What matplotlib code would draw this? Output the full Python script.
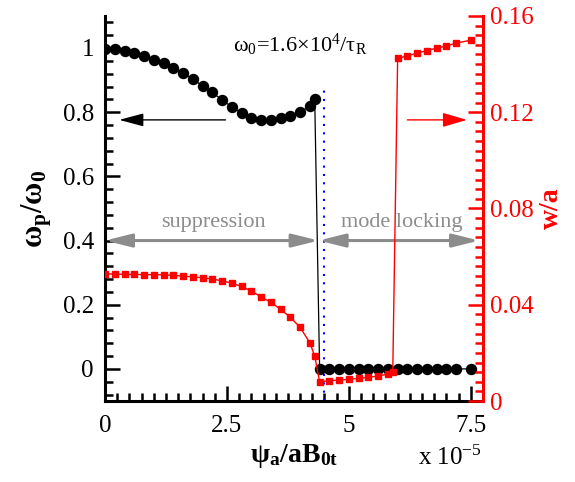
import matplotlib

matplotlib.use("Agg")

import matplotlib.pyplot as plt
from matplotlib.ticker import MultipleLocator

plt.rcParams["font.family"] = ["Liberation Serif", "DejaVu Serif"]
plt.rcParams["mathtext.fontset"] = "custom"
plt.rcParams["mathtext.rm"] = "Liberation Serif"
plt.rcParams["mathtext.it"] = "Liberation Serif:italic"
plt.rcParams["mathtext.bf"] = "Liberation Serif:bold"

# rotation frequency omega_p/omega_0 (left axis)
psi_w = [0.0, 0.2, 0.4, 0.6, 0.8, 1.0, 1.2, 1.4, 1.6, 1.8, 2.0, 2.2, 2.4, 2.6,
         2.8, 3.0, 3.2, 3.4, 3.6, 3.8, 4.0, 4.2, 4.3,
         4.4, 4.6, 4.8, 5.0, 5.2, 5.4, 5.6, 5.8, 6.0, 6.2, 6.4, 6.6, 6.8, 7.0,
         7.2, 7.5]
omega = [0.997, 0.996, 0.990, 0.984, 0.974, 0.963, 0.953, 0.938, 0.922, 0.903,
         0.882, 0.862, 0.838, 0.817, 0.797, 0.783, 0.776, 0.776, 0.782, 0.789,
         0.801, 0.818, 0.841,
         0.0, 0.0, 0.0, 0.0, 0.0, 0.0, 0.0, 0.0, 0.0, 0.0, 0.0, 0.0, 0.0, 0.0,
         0.0, 0.0]

# island width w/a (right axis)
psi_island = [0.0, 0.2, 0.4, 0.6, 0.8, 1.0, 1.2, 1.4, 1.6, 1.8, 2.0, 2.2, 2.4,
              2.6, 2.8, 3.0, 3.2, 3.4, 3.6, 3.8, 4.0, 4.2, 4.3,
              4.4, 4.6, 4.8, 5.0, 5.2, 5.4, 5.6, 5.8, 5.9,
              6.0, 6.2, 6.4, 6.6, 6.8, 7.0, 7.2, 7.5]
island = [0.0528, 0.0528, 0.0526, 0.0526, 0.0525, 0.0525, 0.0524, 0.0522,
          0.0519, 0.0516, 0.0512, 0.0507, 0.0499, 0.0490, 0.0476, 0.0457,
          0.0433, 0.0410, 0.0381, 0.0348, 0.0306, 0.0242, 0.0187,
          0.0080, 0.0084, 0.0087, 0.0090, 0.0094, 0.0098, 0.0104, 0.0112,
          0.0122,
          0.1424, 0.1434, 0.1445, 0.1456, 0.1466, 0.1475, 0.1487, 0.1499]

psi_boundary = 4.38
psi_dotted = 4.5

fig = plt.figure(figsize=(5.75, 4.82), dpi=100)
ax = fig.add_axes([0.1826, 0.168, 0.6574, 0.799])
ax2 = ax.twinx()

ax.plot(psi_w, omega, color="black", linewidth=0.9, marker="o",
        markersize=7.2, zorder=4)
ax2.plot(psi_island, island, color="red", linewidth=1.0, marker="s",
         markersize=4.3, zorder=3)

ax.vlines(psi_dotted, -0.1, 0.875, colors="blue", linestyles=(0, (1, 3)),
          linewidth=1.5, zorder=2)

ax.set_xlim(0, 7.75)
ax.set_ylim(-0.1, 1.1)
ax2.set_ylim(0, 0.16)

ax.xaxis.set_major_locator(MultipleLocator(2.5))
ax.xaxis.set_minor_locator(MultipleLocator(0.25))
ax.yaxis.set_major_locator(MultipleLocator(0.2))
ax.yaxis.set_minor_locator(MultipleLocator(0.04))
ax2.yaxis.set_major_locator(MultipleLocator(0.04))
ax2.yaxis.set_minor_locator(MultipleLocator(0.004))
ax.set_xticks([0, 2.5, 5, 7.5], ["0", "2.5", "5", "7.5"])
ax.set_yticks([0, 0.2, 0.4, 0.6, 0.8, 1.0], ["0", "0.2", "0.4", "0.6", "0.8", "1"])
ax2.set_yticks([0, 0.04, 0.08, 0.12, 0.16], ["0", "0.04", "0.08", "0.12", "0.16"])

for a in (ax, ax2):
    a.spines["top"].set_visible(False)
ax.spines["right"].set_visible(False)
ax2.spines["left"].set_visible(False)
ax2.spines["bottom"].set_visible(False)
ax.spines["left"].set_linewidth(2.2)
ax.spines["bottom"].set_linewidth(2.2)
ax2.spines["right"].set_linewidth(2.2)
ax2.spines["right"].set_color("red")

ax.tick_params(which="both", direction="in", width=1.8, labelsize=18,
               top=False, right=False)
ax.tick_params(which="major", length=11)
ax.tick_params(which="minor", length=6)
ax.tick_params(axis="x", pad=10)
ax.tick_params(axis="y", pad=8)
ax2.tick_params(which="both", direction="in", width=1.8, labelsize=18,
                colors="red", pad=5)
ax2.tick_params(which="major", length=11)
ax2.tick_params(which="minor", length=6)

ax.set_ylabel(r"ω$_\mathbf{p}$/ω$_\mathbf{0}$", fontsize=22,
              fontweight="bold", labelpad=6)
ax2.set_ylabel("w/a", fontsize=20, fontweight="bold", color="red",
               labelpad=4)
ax.set_xlabel(r"ψ$_\mathbf{a}$/aB$_\mathbf{0t}$", fontsize=20,
              fontweight="bold", labelpad=4)
fig.text(0.727, 0.035, r"x 10$^{-5}$", fontsize=18, ha="left", va="baseline")

ax.text(4.0, 1.01, r"ω$_0$=1.6×10$^4$/τ$_\mathrm{R}$", fontsize=16,
        ha="center", va="center")

# direction arrows
ax.annotate("", xy=(0.29, 0.776), xytext=(2.47, 0.776),
            arrowprops=dict(arrowstyle="-|>,head_length=0.75,head_width=0.2",
                            mutation_scale=20, color="black", lw=1.0,
                            shrinkA=0, shrinkB=0))
ax.annotate("", xy=(7.42, 0.776), xytext=(6.2, 0.776),
            arrowprops=dict(arrowstyle="-|>,head_length=0.75,head_width=0.22",
                            mutation_scale=20, color="red", lw=1.0,
                            shrinkA=0, shrinkB=0))

gray = "#8c8c8c"
for x0, x1 in [(0.0, psi_boundary), (psi_boundary, 7.67)]:
    ax.annotate("", xy=(x1, 0.4), xytext=(x0, 0.4),
                arrowprops=dict(arrowstyle="<|-|>,head_length=0.8,head_width=0.2",
                                mutation_scale=20, color=gray, lw=2.2,
                                shrinkA=0, shrinkB=0))
ax.text(2.23, 0.456, "suppression", fontsize=16, color=gray,
        ha="center", va="center")
ax.text(6.08, 0.456, "mode locking", fontsize=16, color=gray,
        ha="center", va="center")

fig.savefig("out.png", dpi=100)
